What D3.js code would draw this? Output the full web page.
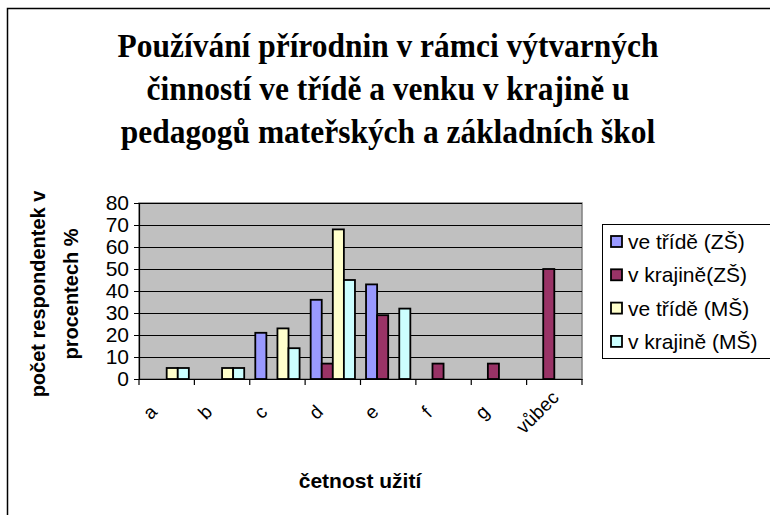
<!doctype html>
<html>
<head>
  <meta charset="utf-8">
  <title>Používání přírodnin</title>
  <script src="https://cdn.jsdelivr.net/npm/d3@7"></script>
  <style>
    html, body { margin: 0; padding: 0; background: #fff; }
    svg { display: block; }
  </style>
</head>
<body>
  <div id="chart"></div>

  <script type="text/javascript">
    var width = 770;
    var height = 515;

    var categories = ['a', 'b', 'c', 'd', 'e', 'f', 'g', 'vůbec'];
    var seriesNames = ['ve třídě (ZŠ)', 'v krajině(ZŠ)', 've třídě (MŠ)', 'v krajině (MŠ)'];
    var tridaZS   = [0, 0, 21, 36, 43, 0, 0, 0];
    var krajinaZS = [0, 0, 0, 7, 29, 7, 7, 50];
    var tridaMS   = [5, 5, 23, 68, 0, 0, 0, 0];
    var krajinaMS = [5, 5, 14, 45, 32, 0, 0, 0];
    var yTicks = [0, 10, 20, 30, 40, 50, 60, 70, 80];
    var colors = ['#9999FF', '#993366', '#FFFFCC', '#CCFFFF'];

    var titleLines = [
      'Používání přírodnin v rámci výtvarných',
      'činností ve třídě a venku v krajině u',
      'pedagogů mateřských a základních škol'
    ];

    var series = [tridaZS, krajinaZS, tridaMS, krajinaMS];

    var plot = { left: 139, top: 203, right: 582, bottom: 379 };
    var sans = 'Arial, "Liberation Sans", sans-serif';

    var svg = d3.select('div#chart')
      .append('svg')
      .attr('width', width)
      .attr('height', height);

    // outer frame (right and bottom edges fall outside the picture)
    svg.append('rect')
      .attr('x', 7.5).attr('y', 8.5)
      .attr('width', 800).attr('height', 600)
      .attr('fill', 'none')
      .attr('stroke', '#000')
      .attr('stroke-width', 1.5);

    // title, slightly condensed like the original
    svg.append('g')
      .attr('transform', 'translate(388,0) scale(0.953,1)')
      .selectAll('text')
      .data(titleLines)
      .enter()
      .append('text')
      .text(function(d) { return d; })
      .attr('x', 0)
      .attr('y', function(d, i) { return 57 + i*43; })
      .attr('text-anchor', 'middle')
      .attr('font-family', '"Liberation Serif", "Times New Roman", serif')
      .attr('font-weight', 'bold')
      .attr('font-size', '33px')
      .attr('fill', '#000');

    var x0 = d3.scaleBand()
      .domain(categories)
      .range([plot.left, plot.right])
      .paddingInner(0.2)
      .paddingOuter(0.1);

    var x1 = d3.scaleBand()
      .domain(d3.range(series.length))
      .range([0, x0.bandwidth()]);

    var y = d3.scaleLinear()
      .domain([0, 80])
      .range([plot.bottom, plot.top]);

    // plot background
    svg.append('rect')
      .attr('x', plot.left).attr('y', plot.top)
      .attr('width', plot.right - plot.left)
      .attr('height', plot.bottom - plot.top)
      .attr('fill', '#C0C0C0')
      .attr('stroke', '#808080')
      .attr('stroke-width', 1.5);

    // gridlines
    svg.append('g').selectAll('line')
      .data(yTicks.slice(1))
      .enter()
      .append('line')
      .attr('x1', plot.left).attr('x2', plot.right)
      .attr('y1', function(d) { return Math.round(y(d)) + 0.5; })
      .attr('y2', function(d) { return Math.round(y(d)) + 0.5; })
      .attr('stroke', '#000')
      .attr('stroke-width', 1);

    // bars
    var groups = svg.append('g').selectAll('g')
      .data(categories)
      .enter()
      .append('g')
      .attr('transform', function(d) { return 'translate(' + x0(d) + ',0)'; });

    groups.selectAll('rect')
      .data(function(d, i) {
        return series.map(function(s, k) { return { k: k, v: s[i] }; });
      })
      .enter()
      .filter(function(d) { return d.v > 0; })
      .append('rect')
      .attr('x', function(d) { return x1(d.k); })
      .attr('y', function(d) { return y(d.v); })
      .attr('width', x1.bandwidth())
      .attr('height', function(d) { return y(0) - y(d.v); })
      .attr('fill', function(d) { return colors[d.k]; })
      .attr('stroke', '#000')
      .attr('stroke-width', 1.8);

    // y axis
    var yAxis = svg.append('g')
      .attr('transform', 'translate(' + plot.left + ',0)')
      .call(d3.axisLeft(y).tickValues(yTicks).tickSize(5).tickPadding(5));
    yAxis.selectAll('text')
      .attr('font-family', sans)
      .attr('font-size', '21px')
      .attr('fill', '#000');
    yAxis.select('.domain').attr('stroke-width', 1.2);

    // x axis with ticks at category boundaries
    var xAxis = svg.append('g')
      .attr('transform', 'translate(0,' + plot.bottom + ')')
      .call(d3.axisBottom(x0).tickSize(0).tickFormat(''));
    xAxis.select('.domain').attr('stroke-width', 1.2);

    var step = x0.step();
    var bounds = categories.map(function(c) { return x0(c) - step*x0.paddingInner()/2; });
    bounds.push(bounds[bounds.length - 1] + step);
    xAxis.selectAll('line.bound')
      .data(bounds)
      .enter()
      .append('line')
      .attr('class', 'bound')
      .attr('x1', function(d) { return d; })
      .attr('x2', function(d) { return d; })
      .attr('y1', 0).attr('y2', 6)
      .attr('stroke', '#000')
      .attr('stroke-width', 1.2);

    // rotated category labels, centred below each group
    svg.append('g').selectAll('text')
      .data(categories)
      .enter()
      .append('text')
      .text(function(d) { return d; })
      .attr('transform', function(d) {
        var cx = x0(d) + x0.bandwidth()/2 - 17;
        return 'translate(' + cx + ',' + (plot.bottom + 33) + ') rotate(-45)';
      })
      .attr('dy', '0.35em')
      .attr('text-anchor', 'middle')
      .attr('font-family', sans)
      .attr('font-size', '19px')
      .attr('fill', '#000');

    // axis titles
    var yTitle = svg.append('text')
      .attr('transform', 'translate(0,294) rotate(-90)')
      .attr('text-anchor', 'middle')
      .attr('font-family', sans)
      .attr('font-weight', 'bold')
      .attr('font-size', '20px')
      .attr('fill', '#000');
    yTitle.append('tspan').attr('x', 0).attr('y', 45).text('počet respondentek v');
    yTitle.append('tspan').attr('x', 0).attr('y', 78).text('procentech %');

    svg.append('text')
      .text('četnost užití')
      .attr('x', 360)
      .attr('y', 488)
      .attr('text-anchor', 'middle')
      .attr('font-family', sans)
      .attr('font-weight', 'bold')
      .attr('font-size', '21px')
      .attr('fill', '#000');

    // legend
    var legend = svg.append('g');
    legend.append('rect')
      .attr('x', 602.5).attr('y', 224.5)
      .attr('width', 200).attr('height', 134)
      .attr('fill', '#fff')
      .attr('stroke', '#000')
      .attr('stroke-width', 1);

    var items = legend.selectAll('g.item')
      .data(seriesNames)
      .enter()
      .append('g')
      .attr('class', 'item')
      .attr('transform', function(d, i) { return 'translate(611,' + (241.5 + i*33.3) + ')'; });

    items.append('rect')
      .attr('x', 0).attr('y', -5.5)
      .attr('width', 11).attr('height', 11)
      .attr('fill', function(d, i) { return colors[i]; })
      .attr('stroke', '#000')
      .attr('stroke-width', 1.8);

    items.append('text')
      .text(function(d) { return d; })
      .attr('x', 17)
      .attr('y', 7.5)
      .attr('font-family', sans)
      .attr('font-size', '21px')
      .attr('fill', '#000');
  </script>
</body>
</html>
